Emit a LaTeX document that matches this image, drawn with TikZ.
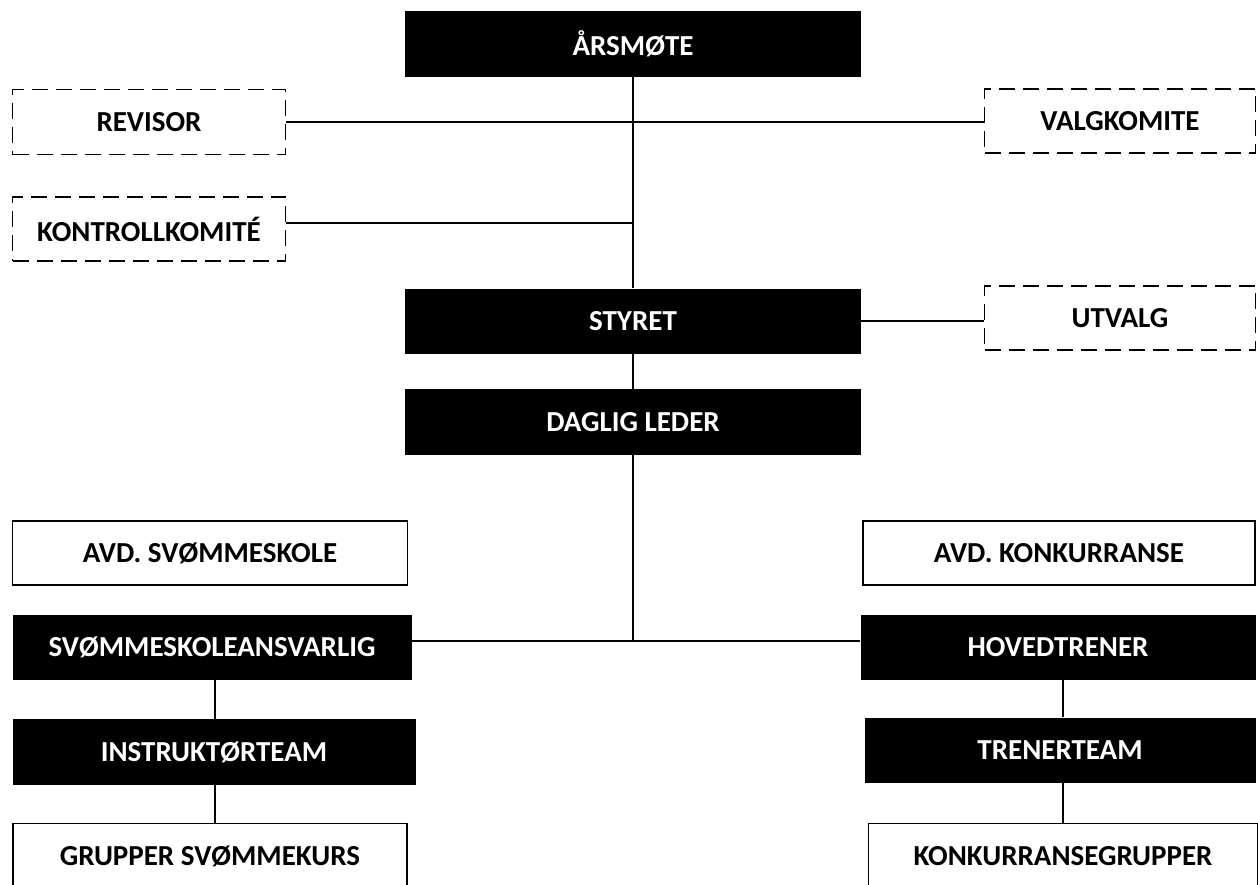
\documentclass[tikz,border=0pt]{standalone}
\usepackage{fontspec}
\setmainfont{Carlito}
\usepackage{xcolor}

\begin{document}
\begin{tikzpicture}[x=1pt, y=-1pt,
  box/.style={rectangle, inner sep=0pt, font=\fontsize{29}{34}\selectfont\bfseries},
  darkbox/.style={box, fill=black, text=white},
  lightbox/.style={box, draw=black, line width=1.6pt, fill=white},
  dashbox/.style={box, draw=black, line width=1.5pt, dash pattern=on 16pt off 8pt, fill=white},
  link/.style={draw=black, line width=1.5pt}]
  % Fix the page to the picture size
  \useasboundingbox (0,0) rectangle (1258,884);

  % Top part
  \node[darkbox, minimum width=456pt, minimum height=66pt] (aarsmote) at (633,44) {ÅRSMØTE};
  \node[dashbox, minimum width=273pt, minimum height=65pt] (revisor) at (149,122) {REVISOR};
  \node[dashbox, minimum width=271pt, minimum height=64pt] (valg) at (1120,121) {VALGKOMITE};
  \node[dashbox, minimum width=273pt, minimum height=64pt] (kontroll) at (149,229) {KONTROLLKOMITÉ};
  \node[darkbox, minimum width=456pt, minimum height=65pt] (styret) at (633,321) {STYRET};
  \node[dashbox, minimum width=271pt, minimum height=64pt] (utvalg) at (1120,318) {UTVALG};
  \node[darkbox, minimum width=456pt, minimum height=66pt] (daglig) at (633,422) {DAGLIG LEDER};

  % Left branch
  \node[lightbox, minimum width=395pt, minimum height=64pt] (avdsvom) at (210,553) {AVD. SVØMMESKOLE};
  \node[darkbox, minimum width=399pt, minimum height=65pt] (ansvarlig) at (212,647) {SVØMMESKOLEANSVARLIG};
  \node[darkbox, minimum width=403pt, minimum height=66pt] (instrukt) at (214,752) {INSTRUKTØRTEAM};
  \node[lightbox, minimum width=394pt, minimum height=65pt] (gruppsvom) at (210,856) {GRUPPER SVØMMEKURS};

  % Right branch
  \node[lightbox, minimum width=392pt, minimum height=64pt] (avdkonk) at (1059,553) {AVD. KONKURRANSE};
  \node[darkbox, minimum width=395pt, minimum height=65pt] (hoved) at (1058,647) {HOVEDTRENER};
  \node[darkbox, minimum width=391pt, minimum height=65pt] (trener) at (1060,750) {TRENERTEAM};
  \node[lightbox, minimum width=389pt, minimum height=65pt] (konkgrupp) at (1063,856) {KONKURRANSEGRUPPER};

  % Connectors
  \draw[link] (aarsmote.south) -- (styret.north);
  \draw[link] (revisor.east) -- (revisor.east -| valg.west);
  \draw[link] ([yshift=6pt]kontroll.east) -- ([yshift=6pt]kontroll.east -| aarsmote.south);
  \draw[link] (styret.east) -- (styret.east -| utvalg.west);
  \draw[link] (styret.south) -- (daglig.north);
  \coordinate (split) at ([yshift=6pt]ansvarlig.east -| daglig.south);
  \draw[link] (daglig.south) -- (split);
  \draw[link] ([yshift=6pt]ansvarlig.east) -- ([yshift=6pt]ansvarlig.east -| hoved.west);
  \draw[link] (ansvarlig.south -| 215,0) -- (instrukt.north -| 215,0);
  \draw[link] (instrukt.south -| 215,0) -- (gruppsvom.north -| 215,0);
  \draw[link] (hoved.south -| konkgrupp.north) -- (trener.north -| konkgrupp.north);
  \draw[link] (trener.south -| konkgrupp.north) -- (konkgrupp.north);
\end{tikzpicture}
\end{document}
